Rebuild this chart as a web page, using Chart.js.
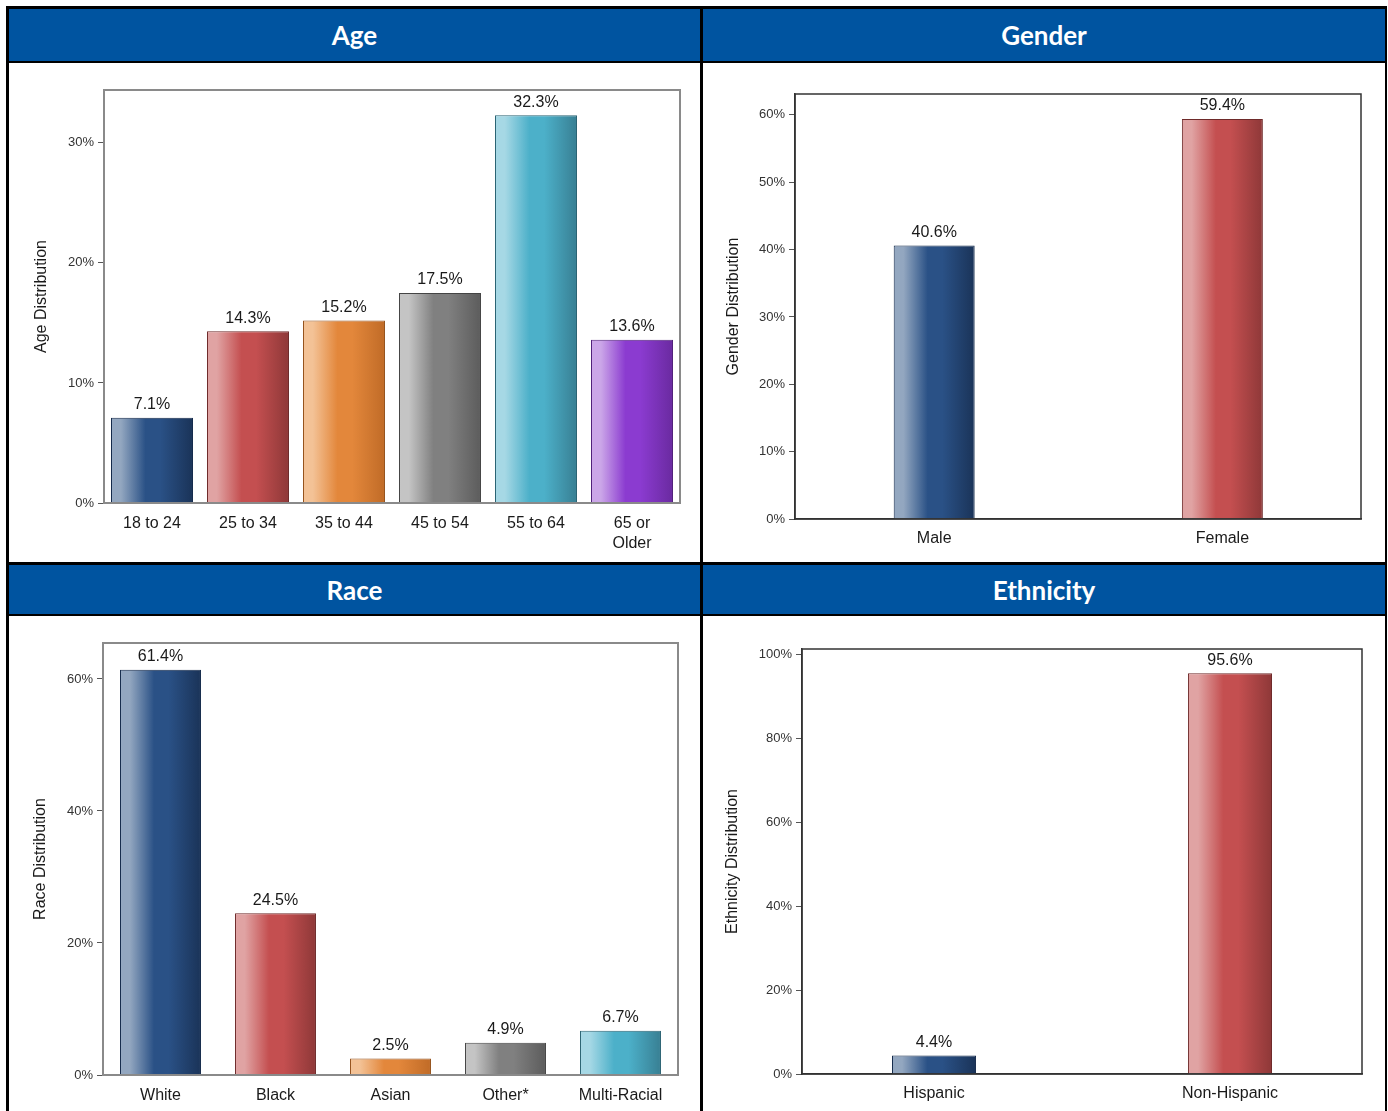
<!DOCTYPE html>
<html>
<head>
<meta charset="utf-8">
<script src="https://cdn.jsdelivr.net/npm/chart.js@4/dist/chart.umd.min.js"></script>
<style>
  html, body { margin: 0; padding: 0; background: #fff; }
  body { width: 1388px; height: 1111px; position: relative; overflow: hidden; }
  .blk { position: absolute; background: #000; }
  .hdr { position: absolute; background: #0054a0; color: #fff; font-family: Lato, "Open Sans", sans-serif; font-weight: 700; font-size: 26px; display: flex; align-items: center; justify-content: center; }
  canvas { position: absolute; }
</style>
</head>
<body>
  <div class="blk" style="left:6px;top:6px;width:1381px;height:3px;"></div>
  <div class="blk" style="left:6px;top:6px;width:3px;height:1105px;"></div>
  <div class="blk" style="left:1385px;top:6px;width:2px;height:1105px;"></div>
  <div class="blk" style="left:700px;top:6px;width:3px;height:1105px;"></div>
  <div class="hdr" style="left:9px;top:9px;width:691px;height:52px;">Age</div>
  <div class="hdr" style="left:703px;top:9px;width:682px;height:52px;">Gender</div>
  <div class="blk" style="left:9px;top:61px;width:1376px;height:2px;"></div>
  <div class="blk" style="left:6px;top:562px;width:1381px;height:3px;"></div>
  <div class="hdr" style="left:9px;top:565px;width:691px;height:49px;">Race</div>
  <div class="hdr" style="left:703px;top:565px;width:682px;height:49px;">Ethnicity</div>
  <div class="blk" style="left:9px;top:614px;width:1376px;height:2px;"></div>

  <canvas id="cAge" width="691" height="499" style="left:9px;top:63px;"></canvas>
  <canvas id="cGender" width="682" height="499" style="left:703px;top:63px;"></canvas>
  <canvas id="cRace" width="691" height="495" style="left:9px;top:616px;"></canvas>
  <canvas id="cEth" width="682" height="495" style="left:703px;top:616px;"></canvas>

<script>
// ---------------- DATA ----------------
const ageLabels = ['18 to 24', '25 to 34', '35 to 44', '45 to 54', '55 to 64', ['65 or', 'Older']];
const ageValues = [7.1, 14.3, 15.2, 17.5, 32.3, 13.6];

const genderLabels = ['Male', 'Female'];
const genderValues = [40.6, 59.4];

const raceLabels = ['White', 'Black', 'Asian', 'Other*', 'Multi-Racial'];
const raceValues = [61.4, 24.5, 2.5, 4.9, 6.7];

const ethLabels = ['Hispanic', 'Non-Hispanic'];
const ethValues = [4.4, 95.6];

// ---------------- STYLES ----------------
const PAL = {
  blue:   ['#93a7c0', '#2a5186', '#1a3358', '#13294a'],
  red:    ['#e0a3a3', '#c44f50', '#8e3838', '#6e2a2a'],
  orange: ['#f3c296', '#e3873b', '#c06b27', '#95521c'],
  gray:   ['#c4c4c4', '#808080', '#5c5c5c', '#444444'],
  cyan:   ['#a6d8e5', '#4cb0c9', '#387f93', '#2a6373'],
  purple: ['#cba6e8', '#8b3bd0', '#6a2aa0', '#50207a']
};
const FONT = '"Liberation Sans", Arial, sans-serif';

function gradFill(colors, pct) {
  return (c) => {
    const chart = c.chart;
    const xs = chart.scales.x;
    const p = PAL[colors[c.dataIndex] || colors[0]];
    if (!xs || !chart.chartArea || c.dataIndex === undefined) return p[1];
    const cx = xs.getPixelForValue(c.dataIndex);
    const w = Math.abs(xs.getPixelForValue(1) - xs.getPixelForValue(0)) * pct;
    const g = chart.ctx.createLinearGradient(cx - w / 2, 0, cx + w / 2, 0);
    g.addColorStop(0, p[0]);
    g.addColorStop(0.12, p[0]);
    g.addColorStop(0.42, p[1]);
    g.addColorStop(0.6, p[1]);
    g.addColorStop(1, p[2]);
    return g;
  };
}

const valueLabels = {
  id: 'valueLabels',
  afterDatasetsDraw(chart, args, opts) {
    const ctx = chart.ctx;
    const meta = chart.getDatasetMeta(0);
    ctx.save();
    ctx.font = '16px ' + FONT;
    ctx.fillStyle = '#1a1a1a';
    ctx.textAlign = 'center';
    ctx.textBaseline = 'middle';
    meta.data.forEach((bar, i) => {
      ctx.fillText(opts.values[i].toFixed(1) + '%', bar.x, bar.y - 13);
    });
    ctx.restore();
  }
};

const frame = {
  id: 'frame',
  afterDraw(chart, args, opts) {
    const { left, top, right, bottom } = chart.chartArea;
    const ctx = chart.ctx;
    ctx.save();
    ctx.strokeStyle = opts.color;
    ctx.lineWidth = opts.width;
    ctx.strokeRect(left, top, right - left, bottom - top);
    ctx.restore();
  }
};

function makeChart(id, cfg) {
  const pct = cfg.barPct;
  const linearX = cfg.xMin !== undefined;
  const xScale = {
    grid: { display: false, drawTicks: false },
    border: { display: true, color: cfg.frameColor, width: cfg.frameWidth },
    ticks: {
      color: '#1a1a1a', padding: cfg.xPad, autoSkip: false, maxRotation: 0,
      font: { family: FONT, size: 16, lineHeight: 1.25 }
    },
    afterFit: (s) => { s.height = cfg.xHeight; }
  };
  if (linearX) {
    Object.assign(xScale, { type: 'linear', offset: false, min: cfg.xMin, max: cfg.xMax });
    Object.assign(xScale.ticks, {
      stepSize: 1, includeBounds: false,
      callback: (v) => Number.isInteger(v) && cfg.labels[v] !== undefined ? cfg.labels[v] : ''
    });
  } else {
    xScale.offset = true;
  }
  new Chart(document.getElementById(id), {
    type: 'bar',
    data: {
      labels: cfg.labels,
      datasets: [{
        data: linearX ? cfg.values.map((v, i) => ({ x: i, y: v })) : cfg.values,
        backgroundColor: gradFill(cfg.colors, pct),
        borderColor: (c) => PAL[cfg.colors[c.dataIndex] || cfg.colors[0]][3],
        borderWidth: 1,
        borderSkipped: 'bottom',
        barPercentage: pct,
        categoryPercentage: 1
      }]
    },
    options: {
      responsive: false,
      animation: false,
      events: [],
      layout: { padding: { top: cfg.padTop, right: cfg.padRight, left: 0, bottom: 0 } },
      plugins: {
        legend: { display: false },
        tooltip: { enabled: false },
        frame: { color: cfg.frameColor, width: cfg.frameWidth },
        valueLabels: { values: cfg.values }
      },
      scales: {
        x: xScale,
        y: {
          min: 0,
          max: cfg.yMax,
          grid: { display: true, drawOnChartArea: false, drawTicks: true, tickLength: 6, color: '#555', lineWidth: 1 },
          border: { display: true, color: cfg.frameColor, width: cfg.frameWidth },
          ticks: {
            stepSize: cfg.step, includeBounds: false, padding: 4, color: '#333',
            font: { family: FONT, size: 13 },
            callback: (v) => v + '%'
          },
          title: {
            display: true, text: cfg.yTitle, color: '#1a1a1a',
            font: { family: FONT, size: 16, lineHeight: 1.2 },
            padding: { top: cfg.titleX - 9.6, bottom: 0 }
          },
          afterFit: (s) => { s.width = cfg.yWidth; }
        }
      }
    },
    plugins: [valueLabels, frame]
  });
}

makeChart('cAge', {
  labels: ageLabels, values: ageValues,
  colors: ['blue', 'red', 'orange', 'gray', 'cyan', 'purple'],
  barPct: 0.854, yMax: 34.4, step: 10, yTitle: 'Age Distribution',
  padTop: 27, padRight: 20, yWidth: 95, xHeight: 59, xPad: 11, titleX: 33,
  frameColor: '#8a8a8a', frameWidth: 2
});

makeChart('cGender', {
  labels: genderLabels, values: genderValues,
  colors: ['blue', 'red'],
  barPct: 0.281, xMin: -0.483, xMax: 1.481,
  yMax: 63.1, step: 10, yTitle: 'Gender Distribution',
  padTop: 31, padRight: 24, yWidth: 92, xHeight: 43, xPad: 10, titleX: 31,
  frameColor: '#333333', frameWidth: 1.5
});

makeChart('cRace', {
  labels: raceLabels, values: raceValues,
  colors: ['blue', 'red', 'orange', 'gray', 'cyan'],
  barPct: 0.704, yMax: 65.45, step: 20, yTitle: 'Race Distribution',
  padTop: 27, padRight: 22, yWidth: 94, xHeight: 36, xPad: 11, titleX: 32,
  frameColor: '#8a8a8a', frameWidth: 2
});

makeChart('cEth', {
  labels: ethLabels, values: ethValues,
  colors: ['blue', 'red'],
  barPct: 0.284, xMin: -0.446, xMax: 1.446,
  yMax: 101.4, step: 20, yTitle: 'Ethnicity Distribution',
  padTop: 33, padRight: 23, yWidth: 99, xHeight: 37, xPad: 10, titleX: 30,
  frameColor: '#333333', frameWidth: 1.5
});
</script>
</body>
</html>
